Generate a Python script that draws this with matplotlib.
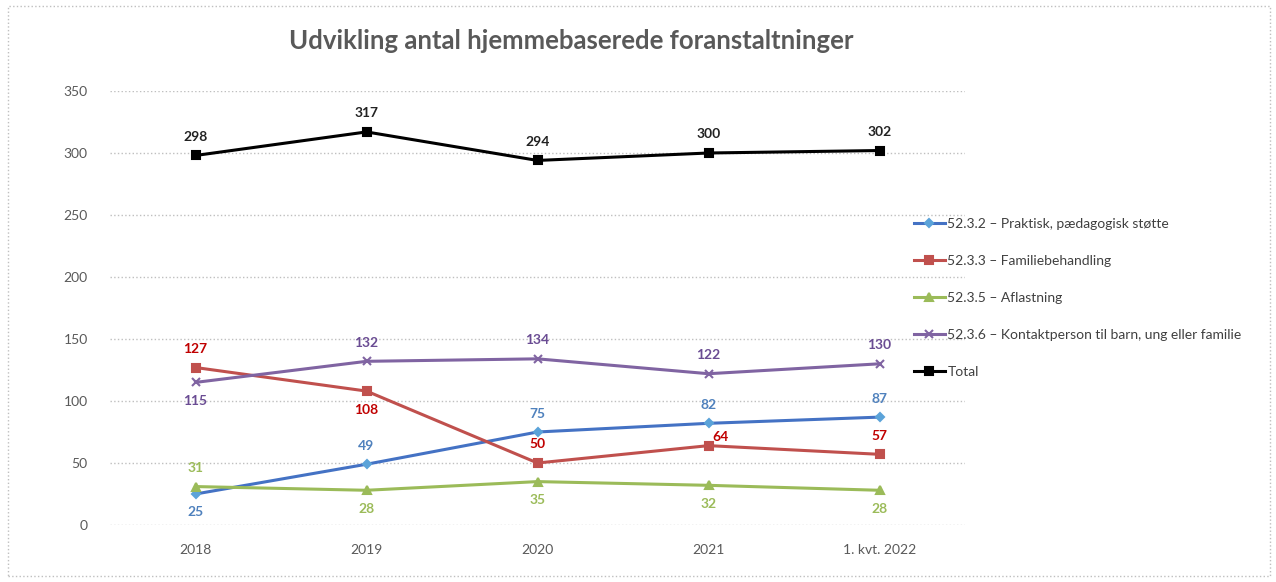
import matplotlib.pyplot as plt
from matplotlib.patches import Rectangle

plt.rcParams['font.family'] = ['Lato', 'DejaVu Sans']

categories = ["2018", "2019", "2020", "2021", "1. kvt. 2022"]
praktisk = [25, 49, 75, 82, 87]
familie = [127, 108, 50, 64, 57]
aflastning = [31, 28, 35, 32, 28]
kontakt = [115, 132, 134, 122, 130]
total = [298, 317, 294, 300, 302]

names = ["52.3.2 – Praktisk, pædagogisk støtte",
         "52.3.3 – Familiebehandling",
         "52.3.5 – Aflastning",
         "52.3.6 – Kontaktperson til barn, ung eller familie",
         "Total"]

# label placement per point: 'a' above, 'b' below, 'r' above-right
series = [
    (praktisk, "#4472C4", "#5BA3D9", "D", 4, ['b', 'a', 'a', 'a', 'a'], "#4F81BD"),
    (familie, "#C0504D", "#C0504D", "s", 6, ['a', 'b', 'a', 'r', 'a'], "#C00000"),
    (aflastning, "#9BBB59", "#9BBB59", "^", 6, ['a', 'b', 'b', 'b', 'b'], "#9BBB59"),
    (kontakt, "#8064A2", "#8064A2", "x", 6, ['b', 'a', 'a', 'a', 'a'], "#6A4C93"),
    (total, "#000000", "#000000", "s", 6, ['a', 'a', 'a', 'a', 'a'], "#222222"),
]

fig = plt.figure(figsize=(12.76, 5.82), dpi=100)
ax = fig.add_axes([110 / 1276, 57 / 582, 855 / 1276, 434 / 582])

x = range(len(categories))
for (vals, lc, mc, mk, ms, pos, tc), name in zip(series, names):
    ax.plot(x, vals, color=lc, lw=2.2, marker=mk, markersize=ms,
            markerfacecolor=mc, markeredgecolor=mc, markeredgewidth=1.5,
            label=name)
    for i, v in enumerate(vals):
        if pos[i] == 'a':
            ax.annotate(str(v), (i, v), xytext=(0, 9), textcoords='offset points',
                        ha='center', va='bottom', color=tc, fontsize=10, fontweight='bold')
        elif pos[i] == 'b':
            ax.annotate(str(v), (i, v), xytext=(0, -9), textcoords='offset points',
                        ha='center', va='top', color=tc, fontsize=10, fontweight='bold')
        else:
            ax.annotate(str(v), (i, v), xytext=(3, 2), textcoords='offset points',
                        ha='left', va='bottom', color=tc, fontsize=10, fontweight='bold')

ax.set_xlim(-0.5, 4.5)
ax.set_ylim(0, 350)
ax.set_yticks(range(0, 351, 50))
ax.set_xticks(list(x))
ax.set_xticklabels(categories)
ax.grid(axis='y', color='#BFBFBF', linestyle=':', linewidth=1)
ax.set_axisbelow(True)
for s in ax.spines.values():
    s.set_visible(False)
ax.tick_params(length=0, colors='#595959', labelsize=10)
ax.tick_params(axis='y', pad=16)
ax.tick_params(axis='x', pad=14)

ax.set_title("Udvikling antal hjemmebaserede foranstaltninger", fontsize=18.5,
             fontweight='bold', color='#595959', pad=30, x=0.54)

leg = ax.legend(loc='upper left', bbox_to_anchor=(914 / 1276, 364 / 582),
                bbox_transform=fig.transFigure, frameon=False, fontsize=10,
                handlelength=2.2, handletextpad=0.2, labelspacing=1.8,
                borderaxespad=0, borderpad=0)
for t in leg.get_texts():
    t.set_color('#404040')

fig.patches.append(Rectangle((8 / 1276, 6 / 582), 1262 / 1276, 570 / 582,
                             transform=fig.transFigure, fill=False,
                             edgecolor='#BFBFBF', linestyle=':', linewidth=1))

fig.savefig("out.png", dpi=100)
